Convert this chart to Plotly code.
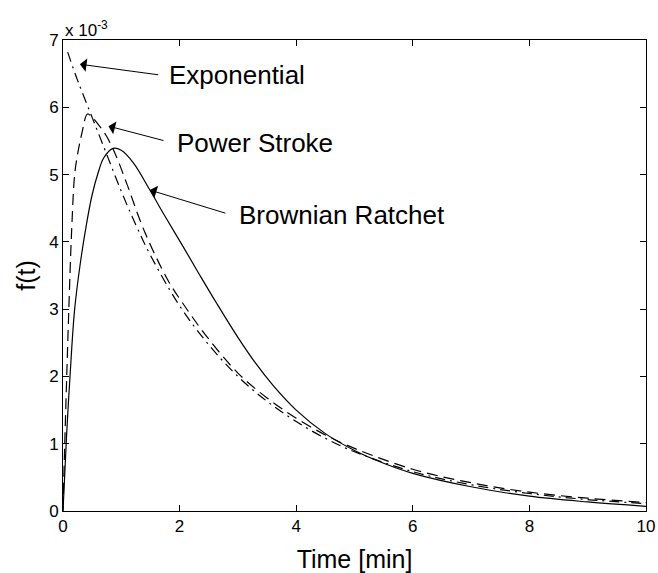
import plotly.graph_objects as go

# values in units of 1e-3
t_exp = [0.08, 0.25, 0.5, 0.75, 1.0, 1.25, 1.5, 2.0, 2.5, 3.0, 3.5, 4.0, 4.5, 5.0, 6.0, 7.0, 8.0, 9.0, 10.0]
f_exp = [6.82, 6.40, 5.85, 5.30, 4.75, 4.25, 3.80, 3.05, 2.47, 2.00, 1.63, 1.33, 1.08, 0.88, 0.585, 0.39, 0.26, 0.17, 0.11]

t_pow = [0, 0.03, 0.1, 0.15, 0.2, 0.25, 0.32, 0.42, 0.5, 0.6, 0.74, 0.9, 1.1, 1.4, 1.8, 2.06, 2.46, 3.0, 3.5, 4.0, 4.5, 5.0, 6.0, 7.0, 8.0, 9.0, 10.0]
f_pow = [0, 1.0, 3.0, 4.2, 5.0, 5.3, 5.6, 5.9, 5.85, 5.75, 5.58, 5.3, 4.85, 4.15, 3.43, 3.08, 2.6, 2.05, 1.68, 1.38, 1.13, 0.93, 0.62, 0.42, 0.28, 0.19, 0.125]

t_br = [0, 0.06, 0.12, 0.2, 0.3, 0.4, 0.5, 0.6, 0.7, 0.86, 1.0, 1.21, 1.49, 1.75, 2.06, 2.35, 2.64, 3.0, 3.3, 3.61, 4.0, 4.5, 5.0, 5.5, 6.0, 7.0, 8.0, 9.0, 10.0]
f_br = [0, 1.1, 2.0, 3.0, 3.7, 4.25, 4.7, 5.02, 5.25, 5.39, 5.36, 5.17, 4.77, 4.38, 3.93, 3.50, 3.08, 2.58, 2.20, 1.86, 1.50, 1.15, 0.90, 0.71, 0.56, 0.36, 0.22, 0.135, 0.07]

x_ticks = [0, 2, 4, 6, 8, 10]
y_ticks = [0, 1, 2, 3, 4, 5, 6, 7]

labels = ["Exponential", "Power Stroke", "Brownian Ratchet"]
FONT = "Liberation Sans, Arial, sans-serif"

fig = go.Figure()
fig.add_trace(go.Scatter(x=t_exp, y=f_exp, mode="lines", line=dict(color="black", width=1.2, dash="10px,5px,2px,5px", shape="spline"), showlegend=False))
fig.add_trace(go.Scatter(x=t_pow, y=f_pow, mode="lines", line=dict(color="black", width=1.2, dash="11px,6px", shape="spline"), showlegend=False))
fig.add_trace(go.Scatter(x=t_br, y=f_br, mode="lines", line=dict(color="black", width=1.2, shape="spline"), showlegend=False))

# arrows: (tip x, tip y, tail x, tail y, text x, text y)
arrows = [
    (0.29, 6.64, 1.66, 6.48, 1.78, 6.48),
    (0.78, 5.72, 1.75, 5.50, 1.92, 5.47),
    (1.49, 4.77, 2.81, 4.42, 2.98, 4.40),
]
for (x, y, ax, ay, tx, ty), lab in zip(arrows, labels):
    fig.add_annotation(x=x, y=y, ax=ax, ay=ay, xref="x", yref="y", axref="x", ayref="y",
                       text="", showarrow=True, arrowhead=1, arrowsize=2.2, arrowwidth=1,
                       arrowcolor="black", standoff=0, startstandoff=0)
    fig.add_annotation(x=tx, y=ty, xref="x", yref="y", text=lab, showarrow=False,
                       xanchor="left", yanchor="middle", font=dict(family=FONT, size=26, color="black"))

fig.add_annotation(x=0, y=1, xref="paper", yref="paper", text="x 10<sup>-3</sup>", showarrow=False,
                   xanchor="left", yanchor="bottom", yshift=-2, font=dict(family=FONT, size=17, color="black"))

axis_common = dict(showline=True, linecolor="black", linewidth=1, mirror="ticks", ticks="inside",
                   ticklen=6, tickwidth=1, tickcolor="black", showgrid=False, zeroline=False,
                   automargin=False, tickfont=dict(family=FONT, size=17, color="black"))
fig.update_xaxes(range=[0, 10], tickvals=x_ticks, title=dict(text="Time [min]", font=dict(family=FONT, size=25, color="black"), standoff=18), **axis_common)
fig.update_yaxes(range=[0, 7], tickvals=y_ticks, title=dict(text="f(t)", font=dict(family=FONT, size=25, color="black"), standoff=6), **axis_common)

fig.update_layout(width=658, height=573, margin=dict(l=63, r=12, t=40, b=62),
                  paper_bgcolor="white", plot_bgcolor="white", font=dict(family=FONT))
fig.write_html("out.html")
